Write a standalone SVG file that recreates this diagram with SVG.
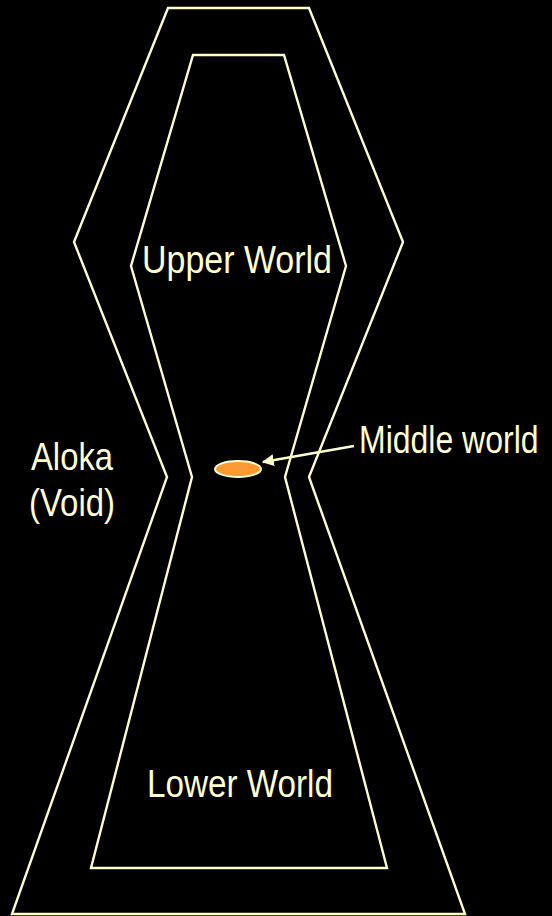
<svg xmlns="http://www.w3.org/2000/svg" width="552" height="916" viewBox="0 0 552 916">
<defs>
<marker id="ah" viewBox="0 0 10 10" refX="9" refY="5" markerWidth="5" markerHeight="5" orient="auto" markerUnits="strokeWidth">
<path d="M0,0 L10,5 L0,10 z" fill="#FFFFCC"/>
</marker>
<style>
.ln{fill:none;stroke:#FFFFCC;stroke-width:2.4;stroke-linejoin:miter}
.t{fill:#FFFFCC;font-family:"Liberation Sans Narrow","Arial Narrow","Liberation Sans",sans-serif;font-size:39px}
.tn{fill:#FFFFCC;font-family:"Liberation Sans Narrow","Arial Narrow","Liberation Sans",sans-serif;font-size:32px}
</style>
</defs>
<rect width="552" height="916" fill="#000"/>
<g id="aloka">
<polygon class="ln" points="168,8 309,8 403,242 309,477 465,914 12,914 167,477 74,242"/>
<text class="t" x="31" y="470" textLength="82" lengthAdjust="spacingAndGlyphs">Aloka</text>
<text class="t" x="29" y="516" textLength="86" lengthAdjust="spacingAndGlyphs">(Void)</text>
</g>
<g id="worlds">
<polygon class="ln" points="193,55 284,55 346,266 285,477 387,868 91,868 192,477 131,266"/>
</g>
<g id="upper">
<text class="t" x="142" y="273" textLength="190" lengthAdjust="spacingAndGlyphs">Upper World</text>
</g>
<g id="lower">
<text class="t" x="147" y="797" textLength="186" lengthAdjust="spacingAndGlyphs">Lower World</text>
</g>
<g id="middle">
<ellipse cx="238" cy="469" rx="23" ry="8" fill="#FF9933" stroke="#FFFFCC" stroke-width="2"/>
<text class="tn" transform="translate(359,453) scale(1,1.2)" x="0" y="0">Middle world</text>
</g>
<g id="connectors">
<line class="ln" x1="354" y1="446" x2="263" y2="462" marker-end="url(#ah)"/>
</g>
</svg>
